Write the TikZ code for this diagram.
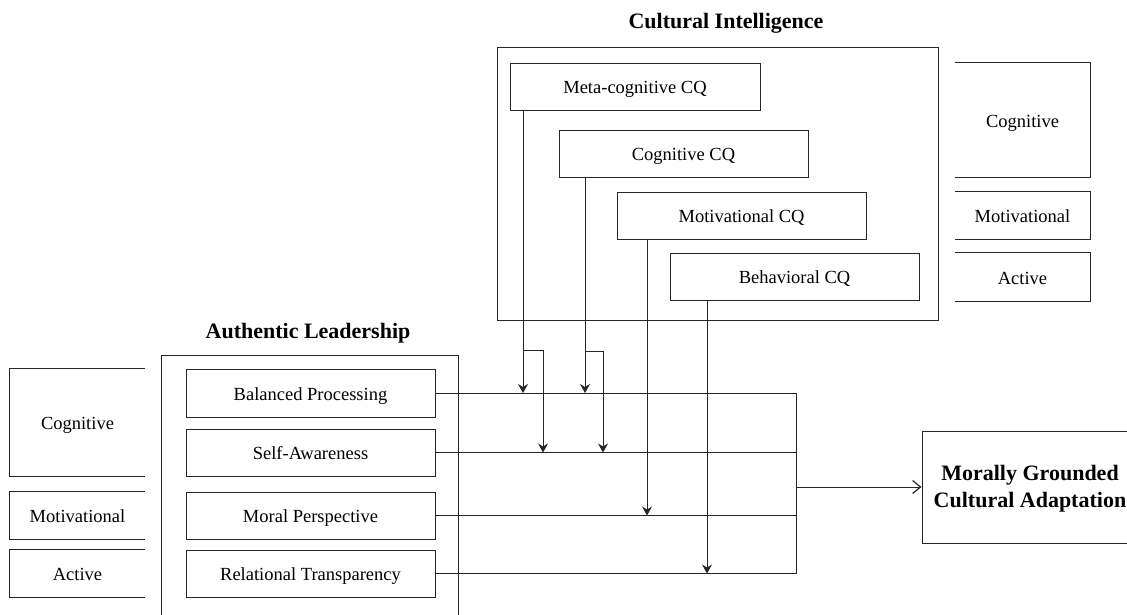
\documentclass[tikz,border=0pt]{standalone}
\usepackage{fontspec}
\setmainfont{Liberation Serif}
\usetikzlibrary{arrows.meta}
\begin{document}
\begin{tikzpicture}[x=1pt,y=-1pt,
  ln/.style={draw=black!85, line width=1pt},
  txt/.style={inner sep=0pt, text height=16pt, text depth=2pt, font=\fontsize{18.5}{21}\selectfont},
  box/.style={ln, rectangle, txt},
  hd/.style={inner sep=0pt, anchor=base, font=\fontsize{22}{26}\selectfont\bfseries},
  arr/.style={-{Stealth[length=9pt,width=10pt,inset=3pt]}},
  outarr/.style={-{Straight Barb[length=8pt,width=13pt,line width=1.2pt]}}]
\useasboundingbox (0,0) rectangle (1127,614);
\clip (0,0) rectangle (1127,614);

% Cultural Intelligence
\node[hd] (cihd) at (726,28) {Cultural Intelligence};
\node[ln, minimum width=441pt, minimum height=273pt, inner sep=0pt] (ci) at (717.5,183.5) {};
\node[box, minimum width=250pt, minimum height=47pt] (meta) at (635,86.5) {Meta-cognitive CQ};
\node[box, minimum width=249pt, minimum height=47pt] (cog) at (683.5,153.5) {Cognitive CQ};
\node[box, minimum width=249pt, minimum height=47pt] (mot) at (741.5,215.5) {Motivational CQ};
\node[box, minimum width=249pt, minimum height=47pt] (beh) at (794.5,276.5) {Behavioral CQ};

% right-side category boxes (open on the left)
\node[txt, minimum width=135pt, minimum height=114pt] (rcog) at (1022.5,120) {Cognitive};
\node[txt, minimum width=135pt, minimum height=47pt] (rmot) at (1022.5,215.5) {Motivational};
\node[txt, minimum width=135pt, minimum height=48pt] (ract) at (1022.5,277) {Active};
\foreach \n in {rcog,rmot,ract}
  \draw[ln] (\n.north west) -- (\n.north east) -- (\n.south east) -- (\n.south west);

% Authentic Leadership
\node[hd] (alhd) at (308,338) {Authentic Leadership};
\node[ln, minimum width=297pt, minimum height=280pt, inner sep=0pt] (al) at (309.5,495) {};
\node[box, minimum width=249pt, minimum height=48pt] (bp) at (310.5,393) {Balanced Processing};
\node[box, minimum width=249pt, minimum height=47pt] (sa) at (310.5,452.5) {Self-Awareness};
\node[box, minimum width=249pt, minimum height=47pt] (mp) at (310.5,515.5) {Moral Perspective};
\node[box, minimum width=249pt, minimum height=47pt] (rt) at (310.5,573.5) {Relational Transparency};

% left-side category boxes (open on the right)
\node[txt, minimum width=135pt, minimum height=107pt] (lcog) at (77.5,422.5) {Cognitive};
\node[txt, minimum width=135pt, minimum height=47pt] (lmot) at (77.5,515.5) {Motivational};
\node[txt, minimum width=135pt, minimum height=47pt] (lact) at (77.5,573.5) {Active};
\foreach \n in {lcog,lmot,lact}
  \draw[ln] (\n.north east) -- (\n.north west) -- (\n.south west) -- (\n.south east);

% outcome
\node[ln, minimum width=216pt, minimum height=112pt, inner sep=0pt] (mg) at (1030,487) {};
\node[inner sep=0pt, align=center, font=\fontsize{22}{27}\selectfont\bfseries] (mgt) at (1030,489) {Morally Grounded\\Cultural Adaptation};

% CQ connectors
\coordinate (m0) at ([xshift=13.5pt]meta.south west);
\coordinate (c0) at ([xshift=26.5pt]cog.south west);
\coordinate (t0) at ([xshift=30.5pt]mot.south west);
\coordinate (b0) at ([xshift=37.5pt]beh.south west);
\coordinate (mk) at (543,350);
\coordinate (ck) at (603,351);
\draw[ln,arr] (m0) -- (m0 |- bp.east);
\draw[ln,arr] (m0 |- mk) -- (mk) -- (mk |- sa.east);
\draw[ln,arr] (c0) -- (c0 |- bp.east);
\draw[ln,arr] (c0 |- ck) -- (ck) -- (ck |- sa.east);
\draw[ln,arr] (t0) -- (t0 |- mp.east);
\draw[ln,arr] (b0) -- (b0 |- rt.east);

% AL connectors to bus
\coordinate (bus) at (796,487);
\draw[ln] (bp.east) -- (bp.east -| bus) -- (rt.east -| bus) -- (rt.east);
\draw[ln] (sa.east) -- (sa.east -| bus);
\draw[ln] (mp.east) -- (mp.east -| bus);
\draw[ln,outarr] (bus) -- (mg.west);
\end{tikzpicture}
\end{document}
